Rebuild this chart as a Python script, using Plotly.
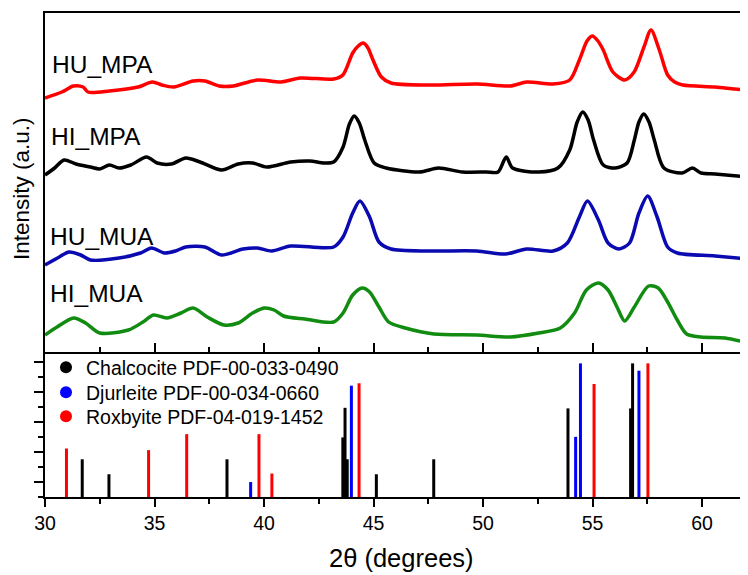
import plotly.graph_objects as go

# ---------------- data ----------------
# HU_MPA (red)
hu_mpa_x = [30.0, 30.77, 31.3, 31.74, 31.96, 32.94, 34.25, 34.9, 35.34, 35.88, 36.76, 37.3, 37.95, 38.6,
            39.7, 40.78, 41.66, 43.18, 43.6, 44.05, 44.3, 44.53, 44.75, 44.92, 45.36, 45.8, 47.54, 49.71,
            51.24, 52.0, 53.2, 53.96, 54.4, 54.75, 54.99, 55.25, 55.49, 55.93, 56.47, 56.9, 57.35, 57.67,
            58.05, 58.43, 58.75, 59.12, 60.6, 61.5, 62.1]
hu_mpa_y = [254, 260, 266, 265, 260, 261, 265, 270, 267, 265, 271, 271, 266, 266,
            272, 270, 274, 273, 277, 299, 306, 309, 304, 295, 275, 269, 267, 268,
            266, 270, 268, 272, 292, 311, 316, 311, 302, 280, 272, 280, 305, 322,
            302, 277, 270, 267, 265, 263, 262]

# HI_MPA (black)
hi_mpa_x = [30.0, 30.44, 30.87, 31.42, 32.07, 32.5, 32.94, 33.38, 33.92, 34.64, 35.12, 35.77, 36.43, 37.08,
            38.06, 38.82, 39.48, 40.13, 41.22, 42.09, 42.74, 43.18, 43.61, 43.9, 44.12, 44.35, 44.6, 45.03,
            45.58, 47.1, 47.97, 49.06, 50.15, 50.69, 51.06, 51.35, 52.54, 53.42, 53.96, 54.3, 54.55, 54.8,
            55.05, 55.49, 56.04, 56.58, 56.91, 57.12, 57.34, 57.58, 57.82, 58.26, 59.09, 59.56, 59.96,
            60.6, 62.1]
hi_mpa_y = [177, 184, 192, 188, 185, 183, 187, 184, 187, 195, 189, 188, 194, 190,
            182, 188, 189, 185, 190, 191, 189, 190, 205, 228, 236, 229, 212, 189,
            184, 180, 184, 180, 180, 180, 195, 184, 180, 184, 202, 230, 240, 232,
            212, 187, 184, 189, 212, 230, 238, 230, 212, 184, 179, 184, 179,
            178, 175]

# HU_MUA (blue)
hu_mua_x = [30.0, 30.65, 31.09, 31.63, 32.07, 33.38, 34.36, 34.86, 35.45, 35.96, 36.43, 37.3, 38.06, 39.04,
            39.7, 40.35, 41.22, 43.18, 43.61, 44.05, 44.38, 44.82, 45.25, 45.8, 47.54, 49.71, 51.02, 52.0,
            53.2, 53.85, 54.4, 54.77, 55.27, 55.71, 56.21, 56.69, 57.12, 57.52, 57.95, 58.43, 58.87, 60.6,
            62.1]
hu_mua_y = [87, 95, 100, 97, 92, 94, 99, 104, 99, 101, 105, 105, 97, 103,
            104, 101, 106, 105, 115, 139, 151, 135, 110, 103, 101, 101, 98, 103,
            101, 109, 135, 151, 132, 109, 103, 109, 139, 156, 135, 105, 99, 96,
            93]

# HI_MUA (green)
hi_mua_x = [30.0, 30.55, 31.31, 31.85, 32.5, 33.81, 34.47, 34.95, 35.56, 36.21, 36.76, 37.41, 38.17, 38.82,
            39.48, 40.02, 40.46, 40.89, 41.87, 43.18, 43.61, 44.05, 44.49, 44.82, 45.25, 45.69, 46.45, 47.76,
            49.71, 51.24, 52.54, 53.53, 54.18, 54.72, 55.27, 55.71, 56.14, 56.47, 56.91, 57.56, 58.0, 58.43,
            58.87, 59.3, 59.96, 61.05, 62.1]
hi_mua_y = [17, 25, 34, 29, 19, 22, 30, 37, 34, 39, 44, 35, 27, 29,
            39, 44, 42, 36, 33, 30, 39, 57, 64, 60, 45, 30, 24, 18,
            17, 15, 19, 24, 39, 62, 69, 62, 44, 31, 45, 66, 64, 50,
            32, 18, 15, 14, 9]

# Reference patterns (2theta, relative height)
chalcocite_x = [31.70, 32.92, 38.31, 43.60, 43.70, 43.80, 45.13, 47.75, 53.88, 56.74, 56.83]
chalcocite_h = [2.52, 1.52, 2.52, 3.98, 5.96, 2.52, 1.52, 2.52, 5.92, 5.92, 8.93]
djurleite_x = [39.39, 43.99, 54.23, 54.45, 57.12]
djurleite_h = [1.0, 7.44, 4.02, 8.93, 8.44]
roxbyite_x = [30.98, 34.73, 36.47, 39.77, 40.36, 44.34, 55.07, 57.53]
roxbyite_h = [3.24, 3.13, 4.2, 4.2, 1.57, 7.6, 7.55, 8.93]

sample_labels = ["HU_MPA", "HI_MPA", "HU_MUA", "HI_MUA"]
ref_names = ["Chalcocite PDF-00-033-0490", "Djurleite PDF-00-034-0660", "Roxbyite PDF-04-019-1452"]

# ---------------- figure ----------------
FONT = "Arial, Liberation Sans, sans-serif"
OFF = 8                      # default body margin of the html page
W, H = 748 - OFF, 575 - OFF
ML, MR = 45 - OFF, 0
PT, PB = 13 - OFF, 497 - OFF   # plot top / bottom in figure pixels
MT, MB = PT, H - PB
pw = W - ML - MR
ph = PB - PT
split = (497 - 352) / ph


def px_x(px):
    return (px - OFF - ML) / pw


def px_y(py):
    return (PB - (py - OFF)) / ph


fig = go.Figure()

curves = [(hu_mpa_x, hu_mpa_y, "#ff0000"), (hi_mpa_x, hi_mpa_y, "#000000"),
          (hu_mua_x, hu_mua_y, "#0a0ab0"), (hi_mua_x, hi_mua_y, "#118c11")]
for (xs, ys, col), lab in zip(curves, sample_labels):
    fig.add_trace(go.Scatter(x=xs, y=ys, mode="lines", name=lab, showlegend=False,
                             line=dict(color=col, width=3.5, shape="spline", smoothing=0.8),
                             xaxis="x", yaxis="y"))


def sticks(xs, hs):
    sx, sy = [], []
    for p, h in zip(xs, hs):
        sx += [p, p, None]
        sy += [0, h, None]
    return sx, sy


refs = [(chalcocite_x, chalcocite_h, "#000000"), (djurleite_x, djurleite_h, "#0000ff"),
        (roxbyite_x, roxbyite_h, "#ff0000")]
for (xs, hs, col), nm in zip(refs, ref_names):
    sx, sy = sticks(xs, hs)
    fig.add_trace(go.Scatter(x=sx, y=sy, mode="lines", showlegend=False, hoverinfo="skip",
                             line=dict(color=col, width=3), xaxis="x2", yaxis="y2"))

legend_ids = ["legend", "legend2", "legend3"]
legend_row_py = [367, 392, 416]
for (xs, hs, col), nm, lid in zip(refs, ref_names, legend_ids):
    fig.add_trace(go.Scatter(x=[None], y=[None], mode="markers", name=nm, legend=lid,
                             marker=dict(color=col, size=15, symbol="circle"),
                             xaxis="x2", yaxis="y2"))

# sample labels
label_py = [65, 136.7, 236.7, 293]
label_px = [50, 49, 47.5, 47.5]
for lab, px, py in zip(sample_labels, label_px, label_py):
    fig.add_annotation(text=lab, xref="paper", yref="paper", x=px_x(px), y=px_y(py),
                       xanchor="left", yanchor="middle", showarrow=False,
                       font=dict(family=FONT, size=24.5, color="black"))

# axis titles
fig.add_annotation(text="Intensity (a.u.)", xref="paper", yref="paper", x=px_x(21),
                   y=px_y(189), textangle=-90, showarrow=False, xanchor="center",
                   yanchor="middle", font=dict(family=FONT, size=22.5, color="black"))
fig.add_annotation(text="2θ (degrees)", xref="paper", yref="paper", x=px_x(402),
                   y=px_y(558), showarrow=False, xanchor="center", yanchor="middle",
                   font=dict(family=FONT, size=25.5, color="black"))

axline = dict(showline=True, linecolor="black", linewidth=2, showgrid=False, zeroline=False)

legend_common = dict(xanchor="left", yanchor="top", bgcolor="rgba(0,0,0,0)",
                     font=dict(family=FONT, size=19.5, color="black"), itemsizing="constant")
legends = {}
for lid, rpy in zip(legend_ids, legend_row_py):
    legends[lid] = dict(x=px_x(46), y=px_y(rpy - 19), **legend_common)

fig.update_layout(
    width=W, height=H,
    margin=dict(l=ML, r=MR, t=MT, b=MB, autoexpand=False),
    paper_bgcolor="white", plot_bgcolor="white",
    font=dict(family=FONT, color="black"),
    xaxis=dict(domain=[0, 1], range=[30, 62.1], anchor="y", showticklabels=False,
               ticks="inside", ticklen=9, tickwidth=2, tickcolor="black", dtick=5, tick0=30,
               minor=dict(ticks="inside", ticklen=5, tickwidth=2, tickcolor="black", dtick=2.5, tick0=30),
               mirror=True, **axline),
    yaxis=dict(domain=[split, 1], range=[0, 339], anchor="x", showticklabels=False, ticks="", **axline),
    xaxis2=dict(domain=[0, 1], range=[30, 62.1], anchor="y2", matches="x",
                ticks="outside", ticklen=8, tickwidth=2, tickcolor="black", dtick=5, tick0=30,
                minor=dict(ticks="outside", ticklen=5, tickwidth=2, tickcolor="black", dtick=2.5, tick0=30),
                tickfont=dict(family=FONT, size=19.5, color="black"), **axline),
    yaxis2=dict(domain=[0, split], range=[0, 9.69], anchor="x2", showticklabels=False,
                ticks="outside", ticklen=9, tickwidth=2, tickcolor="black", tick0=1, dtick=2,
                minor=dict(ticks="outside", ticklen=5, tickwidth=2, tickcolor="black", dtick=1, tick0=0),
                **axline),
    showlegend=True,
    **legends,
)

fig.write_html("out.html")
